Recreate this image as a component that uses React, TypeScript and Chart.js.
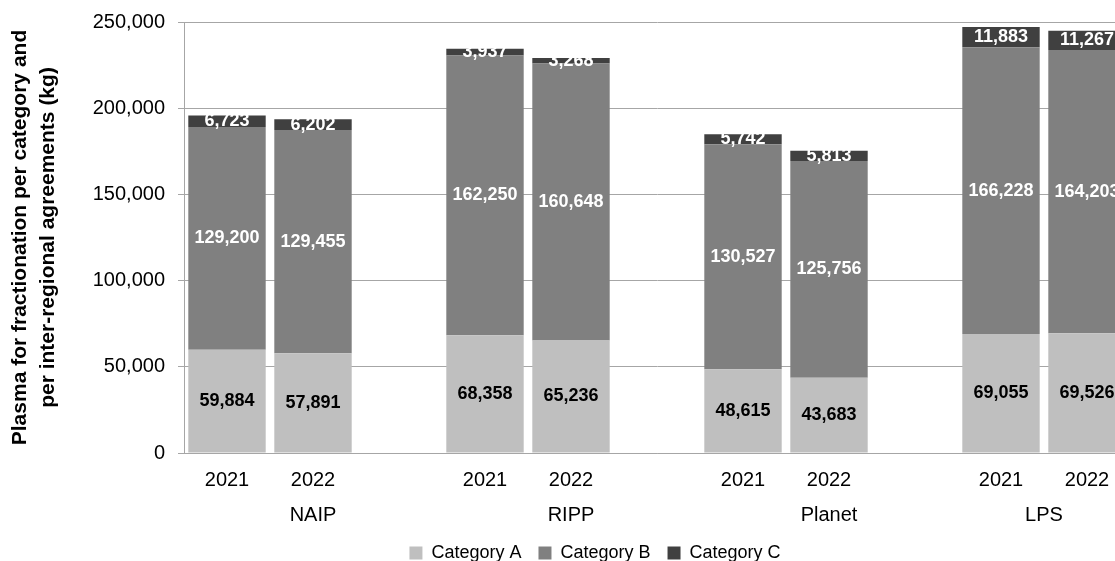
import React, { useEffect, useRef } from 'react';
import { Chart, registerables } from 'chart.js';

Chart.register(...registerables);

const groups = ['NAIP', 'RIPP', 'Planet', 'LPS'];
const years = ['2021', '2022'];
const categoryA = [59884, 57891, 68358, 65236, 48615, 43683, 69055, 69526];
const categoryB = [129200, 129455, 162250, 160648, 130527, 125756, 166228, 164203];
const categoryC = [6723, 6202, 3937, 3268, 5742, 5813, 11883, 11267];
const yTicks = [0, 50000, 100000, 150000, 200000, 250000];
const seriesNames = ['Category A', 'Category B', 'Category C'];
const seriesColors = ['#bfbfbf', '#808080', '#404040'];
const labelColors = ['#000000', '#ffffff', '#ffffff'];

// slots: each group's years, followed by an empty spacer slot (not after the last group)
const slotLabels: string[] = [];
const slotGroup: number[] = [];
const slotSource: (number | null)[] = [];
groups.forEach((g, gi) => {
  years.forEach((y, yi) => {
    slotLabels.push(y);
    slotGroup.push(gi);
    slotSource.push(gi * years.length + yi);
  });
  if (gi < groups.length - 1) {
    slotLabels.push('');
    slotGroup.push(gi);
    slotSource.push(null);
  }
});
const spread = (vals: number[]) => slotSource.map((i) => (i === null ? null : vals[i]));

const FONT = '"Liberation Sans", Arial, sans-serif';

const valueLabels = {
  id: 'valueLabels',
  afterDatasetsDraw(chart: any) {
    const ctx = chart.ctx;
    ctx.save();
    ctx.font = `bold 18px ${FONT}`;
    ctx.textAlign = 'center';
    ctx.textBaseline = 'middle';
    chart.data.datasets.forEach((ds: any, di: number) => {
      const meta = chart.getDatasetMeta(di);
      meta.data.forEach((el: any, i: number) => {
        const v = ds.data[i];
        if (v === null || v === undefined) return;
        const { x, y, base } = el.getProps(['x', 'y', 'base'], true);
        ctx.fillStyle = labelColors[di];
        ctx.fillText(Number(v).toLocaleString('en-US'), x, (y + base) / 2);
      });
    });
    ctx.restore();
  },
};

const groupLabels = {
  id: 'groupLabels',
  afterLayout(chart: any) {
    const lg = chart.legend;
    if (lg) {
      lg.left = 0;
      lg.right = chart.width;
      lg.width = chart.width;
    }
  },
  afterDraw(chart: any) {
    const ctx = chart.ctx;
    const xs = chart.scales.x;
    ctx.save();
    ctx.font = `20px ${FONT}`;
    ctx.fillStyle = '#000000';
    ctx.textAlign = 'center';
    ctx.textBaseline = 'middle';
    groups.forEach((g, gi) => {
      const idx = slotGroup.map((sg, i) => (sg === gi ? i : -1)).filter((i) => i >= 0);
      const x = (xs.getPixelForValue(idx[0]) + xs.getPixelForValue(idx[idx.length - 1])) / 2;
      ctx.fillText(g, x, chart.chartArea.bottom + 62);
    });
    ctx.restore();
  },
};

export default function App() {
  const ref = useRef<HTMLCanvasElement | null>(null);
  useEffect(() => {
    if (!ref.current) return;
    Chart.defaults.font.family = FONT;
    const series = [categoryA, categoryB, categoryC];
    const chart = new Chart(ref.current, {
      type: 'bar',
      data: {
        labels: slotLabels,
        datasets: series.map((vals, i) => ({
          label: seriesNames[i],
          data: spread(vals),
          backgroundColor: seriesColors[i],
          borderWidth: 0,
          categoryPercentage: 0.9,
          barPercentage: 1,
        })),
      },
      options: {
        responsive: false,
        maintainAspectRatio: false,
        devicePixelRatio: 1,
        animation: false,
        layout: { padding: { top: 22, right: 60, left: 0, bottom: 0 } },
        plugins: {
          tooltip: { enabled: false },
          legend: {
            position: 'bottom',
            labels: {
              boxWidth: 13,
              boxHeight: 13,
              padding: 17,
              color: '#000000',
              font: { size: 18, family: FONT },
            },
          },
        },
        scales: {
          x: {
            stacked: true,
            grid: { display: false, drawTicks: false },
            border: { display: true, color: '#a6a6a6', width: 1 },
            ticks: {
              color: '#000000',
              font: { size: 20, family: FONT },
              padding: 15,
              autoSkip: false,
              maxRotation: 0,
            },
            afterFit: (s: any) => {
              s.height = 74;
              s.paddingLeft = 0;
              s.paddingRight = 0;
            },
          },
          y: {
            stacked: true,
            min: 0,
            max: 250000,
            grid: { color: '#a6a6a6', lineWidth: 1, tickLength: 6 },
            border: { display: true, color: '#a6a6a6', width: 1 },
            ticks: {
              color: '#000000',
              font: { size: 20, family: FONT },
              padding: 13,
              callback: (v: any) => Number(v).toLocaleString('en-US'),
            },
            afterBuildTicks: (s: any) => {
              s.ticks = yTicks.map((v) => ({ value: v }));
            },
            afterFit: (s: any) => {
              s.width = 184;
              s.paddingTop = 0;
              s.paddingBottom = 0;
            },
            title: {
              display: true,
              text: ['Plasma for fractionation per category and', 'per inter-regional agreements (kg)'],
              color: '#000000',
              font: { size: 21, weight: 'bold', family: FONT, lineHeight: 1.33 },
              padding: { top: 6, bottom: 0 },
            },
          },
        },
      },
      plugins: [valueLabels, groupLabels],
    });
    return () => chart.destroy();
  }, []);

  return (
    <div style={{ position: 'absolute', left: 0, top: 0, width: 1115, height: 561, overflow: 'hidden', background: '#ffffff' }}>
      <canvas ref={ref} width={1190} height={572} style={{ display: 'block' }} />
    </div>
  );
}
